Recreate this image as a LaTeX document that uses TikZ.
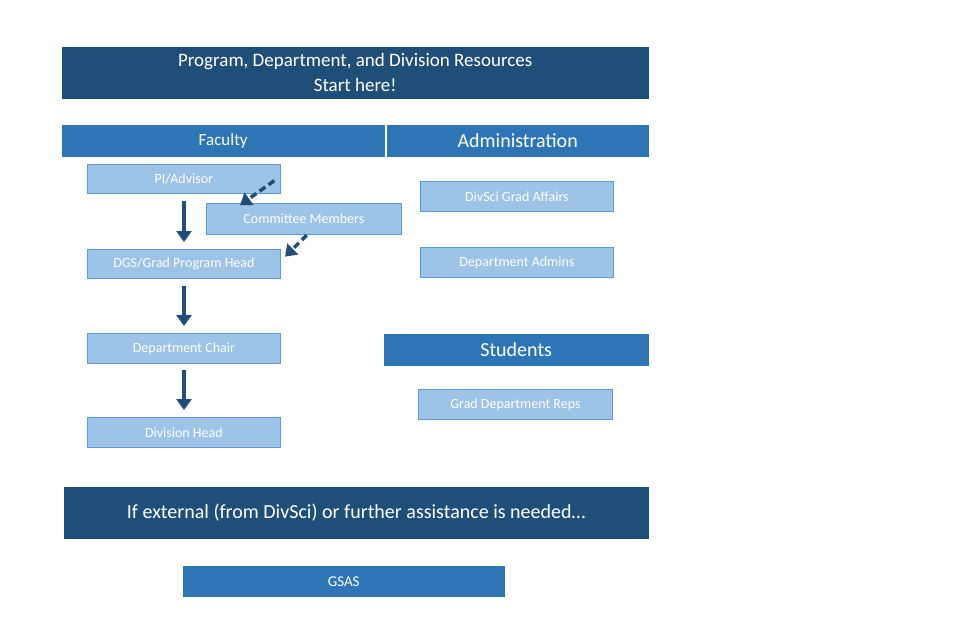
\documentclass[tikz,border=0pt]{standalone}
\usepackage{fontspec}
\setmainfont{Carlito}
\usetikzlibrary{arrows.meta}
\definecolor{dk}{HTML}{1F4E79}
\definecolor{md}{HTML}{2E75B6}
\definecolor{lt}{HTML}{9DC3E6}
\definecolor{ltb}{HTML}{5B9BD5}
\definecolor{arr}{HTML}{1F4E79}
\tikzset{
 bx/.style={draw=#1,fill=#1,text=white,inner sep=0pt,anchor=north west,align=center},
 lbox/.style={draw=ltb,line width=0.8pt,fill=lt,text=white,inner sep=0pt,anchor=north west,align=center,font=\fontsize{14}{16}\selectfont},
 ar/.style={draw=arr,line width=3.5pt,-{Triangle[length=11pt,width=15pt]}},
 dar/.style={ar,dash pattern=on 7pt off 4pt}
}
\begin{document}
\begin{tikzpicture}[x=1pt,y=-1pt]
\useasboundingbox (0,0) rectangle (960,640);
\node[bx=dk,minimum width=586,minimum height=51,font=\fontsize{19}{25}\selectfont] (title) at (62,47) {Program, Department, and Division Resources\\Start here!};
\node[bx=md,minimum width=322,minimum height=31,font=\fontsize{17}{20}\selectfont] (fac) at (62,125) {Faculty};
\node[bx=md,minimum width=261,minimum height=31,font=\fontsize{20}{22}\selectfont] (adm) at (387,125) {Administration};
\node[lbox,minimum width=193,minimum height=29] (pi) at (87,164) {PI/Advisor};
\node[lbox,minimum width=195,minimum height=31] (com) at (206,203) {Committee Members};
\node[lbox,minimum width=193,minimum height=29] (dgs) at (87,249) {DGS/Grad Program Head};
\node[lbox,minimum width=193,minimum height=30] (chair) at (87,333) {Department Chair};
\node[lbox,minimum width=193,minimum height=30] (div) at (87,417) {Division Head};
\node[lbox,minimum width=193,minimum height=30] (dsga) at (420,181) {DivSci Grad Affairs};
\node[lbox,minimum width=193,minimum height=30] (dadm) at (420,247) {Department Admins};
\node[bx=md,minimum width=264,minimum height=31,font=\fontsize{20}{22}\selectfont] (stu) at (384,334) {Students};
\node[lbox,minimum width=194,minimum height=30] (reps) at (418,389) {Grad Department Reps};
\node[bx=dk,minimum width=584,minimum height=51,font=\fontsize{20}{24}\selectfont] (ext) at (64,487) {If external (from DivSci) or further assistance is needed…};
\node[bx=md,minimum width=321,minimum height=30,font=\fontsize{15}{18}\selectfont] (gsas) at (183,566) {GSAS};
\draw[ar,shorten <=7pt,shorten >=7pt] (pi.south -| 184,0) -- (dgs.north -| 184,0);
\draw[ar,shorten <=7pt,shorten >=7pt] (dgs.south -| 184,0) -- (chair.north -| 184,0);
\draw[ar,shorten <=6pt,shorten >=7pt] (chair.south -| 184,0) -- (div.north -| 184,0);
\draw[dar,shorten <=8pt,shorten >=5pt] (pi.north east) ++(0,12) coordinate (a1) (a1) -- ([xshift=30pt,yshift=-5pt]com.north west);
\draw[dar,shorten <=6pt,shorten >=6pt] ([xshift=105pt,yshift=4pt]com.south west) -- ([yshift=3pt]dgs.east);
\end{tikzpicture}
\end{document}
